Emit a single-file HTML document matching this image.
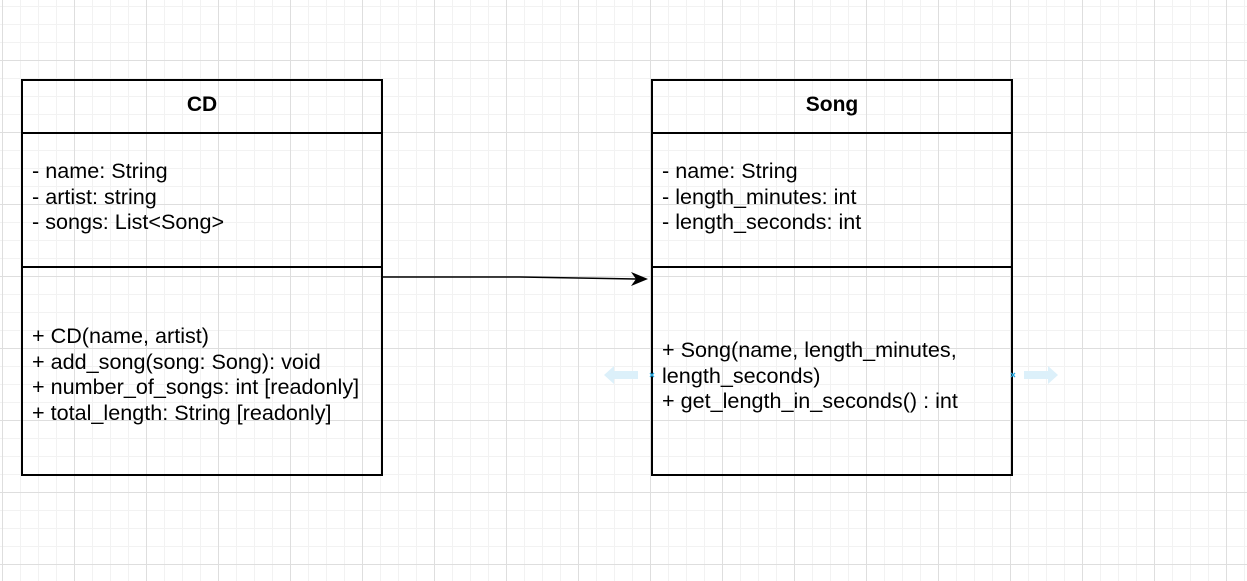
<!DOCTYPE html>
<html><head><meta charset="utf-8"><style>
html,body{margin:0;padding:0}
body{width:1247px;height:581px;position:relative;overflow:hidden;background:#fff;
background-image:
linear-gradient(to right,#dedede 1px,transparent 1px),
linear-gradient(to bottom,#dedede 1px,transparent 1px),
linear-gradient(to right,#f2f2f2 1px,transparent 1px),
linear-gradient(to bottom,#f2f2f2 1px,transparent 1px);
background-size:72px 72px,72px 72px,18px 18px,18px 18px;
background-position:2px 0,0 60px,2px 0,0 6px;
font-family:"Liberation Sans",Arial,sans-serif;}
.box{position:absolute;border:2px solid #000;box-sizing:border-box}
.hl{position:absolute;height:2px;background:#000}
.t{position:absolute;font-size:21.6px;line-height:25.5px;white-space:nowrap;color:#000}
.h{position:absolute;font-weight:bold;font-size:21px;text-align:center}
</style></head><body>
<div class="box" style="left:21px;top:79px;width:362px;height:397px"></div>
<div class="hl" style="left:21px;top:132px;width:362px"></div>
<div class="hl" style="left:21px;top:266px;width:362px"></div>
<div class="h" style="left:21px;width:362px;top:93px">CD</div>
<div class="t" style="left:32px;top:158px">- name: String<br>- artist: string<br>- songs: List&lt;Song&gt;</div>
<div class="t" style="left:32px;top:323px">+ CD(name, artist)<br>+ add_song(song: Song): void<br>+ number_of_songs: int [readonly]<br>+ total_length: String [readonly]</div>

<div class="box" style="left:651px;top:79px;width:362px;height:397px"></div>
<div class="hl" style="left:651px;top:132px;width:362px"></div>
<div class="hl" style="left:651px;top:266px;width:362px"></div>
<div class="h" style="left:651px;width:362px;top:93px">Song</div>
<div class="t" style="left:662px;top:158px">- name: String<br>- length_minutes: int<br>- length_seconds: int</div>
<div class="t" style="left:662px;top:337px">+ Song(name, length_minutes,<br>length_seconds)<br>+ get_length_in_seconds() : int</div>

<svg style="position:absolute;left:0;top:0" width="1247" height="581">
<path d="M383 277 L520 277 L636 279" stroke="#000" stroke-width="1.5" fill="none"/>
<path d="M648 279 L631 272 L636 279 L631 286 Z" fill="#000"/>
<path d="M604 375 L614 366 L614 371 L638 371 L638 379 L614 379 L614 384 Z" fill="#dcf0fa"/>
<path d="M1058 375 L1048 366 L1048 371 L1024 371 L1024 379 L1048 379 L1048 384 Z" fill="#dcf0fa"/>
<path d="M650 373 l4 4 M654 373 l-4 4 M1011 373 l4 4 M1015 373 l-4 4" stroke="#29a9e0" stroke-width="1.3"/>
</svg>
</body></html>
